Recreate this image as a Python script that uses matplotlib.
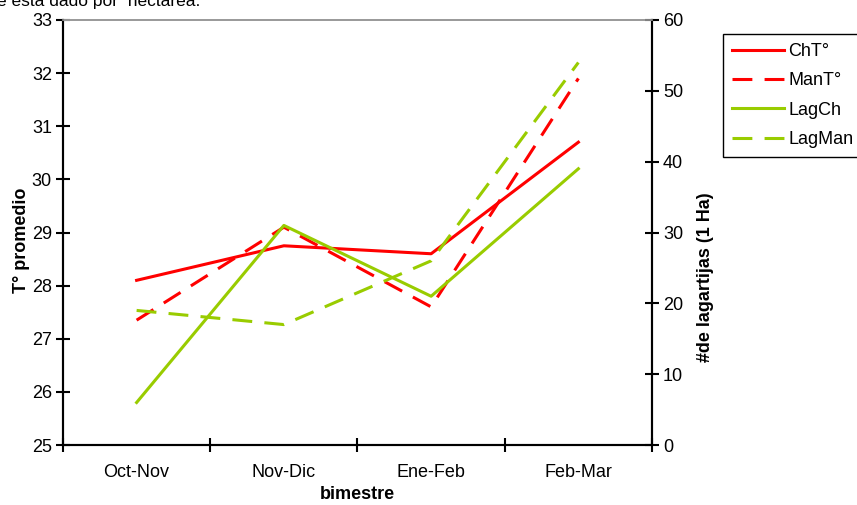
import matplotlib
matplotlib.use('Agg')
from matplotlib import pyplot as plt

plt.rcParams['font.family'] = ['Liberation Sans', 'DejaVu Sans']

bimestres = ['Oct-Nov', 'Nov-Dic', 'Ene-Feb', 'Feb-Mar']
# temperatura promedio (eje izquierdo)
ch_temp = [28.1, 28.75, 28.6, 30.7]
man_temp = [27.35, 29.1, 27.6, 31.9]
# numero de lagartijas por hectarea (eje derecho)
lag_ch = [6, 31, 21, 39]
lag_man = [19, 17, 26, 54]

rojo = '#FF0000'
verde = '#99CC00'
dash = (6.5, 4)

fig = plt.figure(figsize=(8.57, 5.05), dpi=100)
ax1 = fig.add_axes([0.0735, 0.1188, 0.6873, 0.8416])
ax2 = ax1.twinx()

x = list(range(len(bimestres)))

l1, = ax1.plot(x, ch_temp, color=rojo, lw=2.2, label='ChT°')
l2, = ax1.plot(x, man_temp, color=rojo, lw=2.2, dashes=dash, label='ManT°')
l3, = ax2.plot(x, lag_ch, color=verde, lw=2.2, label='LagCh')
l4, = ax2.plot(x, lag_man, color=verde, lw=2.2, dashes=dash, label='LagMan')

ax1.set_xlim(-0.5, len(bimestres) - 0.5)
ax1.set_ylim(25, 33)
ax2.set_ylim(0, 60)
ax1.set_yticks(range(25, 34))
ax2.set_yticks(range(0, 61, 10))

# ticks at the category boundaries, labels centred on the categories
ax1.set_xticks([i - 0.5 for i in range(len(bimestres) + 1)])
ax1.set_xticklabels([])
ax1.set_xticks(x, minor=True)
ax1.set_xticklabels(bimestres, minor=True)
ax1.tick_params(axis='x', which='major', direction='inout', length=10, width=1.5)
ax1.tick_params(axis='x', which='minor', length=0, pad=14, labelsize=13)
ax1.tick_params(axis='y', direction='inout', length=10, width=1.5, pad=3, labelsize=13)
ax2.tick_params(axis='y', direction='inout', length=10, width=1.5, pad=3, labelsize=13)

for ax in (ax1, ax2):
    ax.spines['top'].set_color('#999999')
    ax.spines['top'].set_linewidth(1.2)
    ax.spines['left'].set_linewidth(1.5)
    ax.spines['right'].set_linewidth(1.5)
    ax.spines['bottom'].set_linewidth(1.5)

ax1.set_xlabel('bimestre', fontsize=13, fontweight='bold', labelpad=3)
ax1.set_ylabel('T° promedio', fontsize=13, fontweight='bold')
ax1.yaxis.set_label_coords(-0.056, 0.482)
ax2.set_ylabel('#de lagartijas (1 Ha)', fontsize=13, fontweight='bold')
ax2.yaxis.set_label_coords(1.076, 0.395)

fig.legend(handles=[l1, l2, l3, l4], loc='upper left',
           bbox_to_anchor=(723 / 857, 1 - 34 / 505),
           fontsize=13, frameon=True, fancybox=False, edgecolor='black',
           framealpha=1, handlelength=2.9, handletextpad=0.22,
           labelspacing=0.68, borderpad=0.5, borderaxespad=0)

fig.text(-0.003, 1 - 6 / 505, 'e está dado por  hectárea.', fontsize=12.5,
         va='baseline', ha='left')

fig.savefig('out.png', dpi=100)
